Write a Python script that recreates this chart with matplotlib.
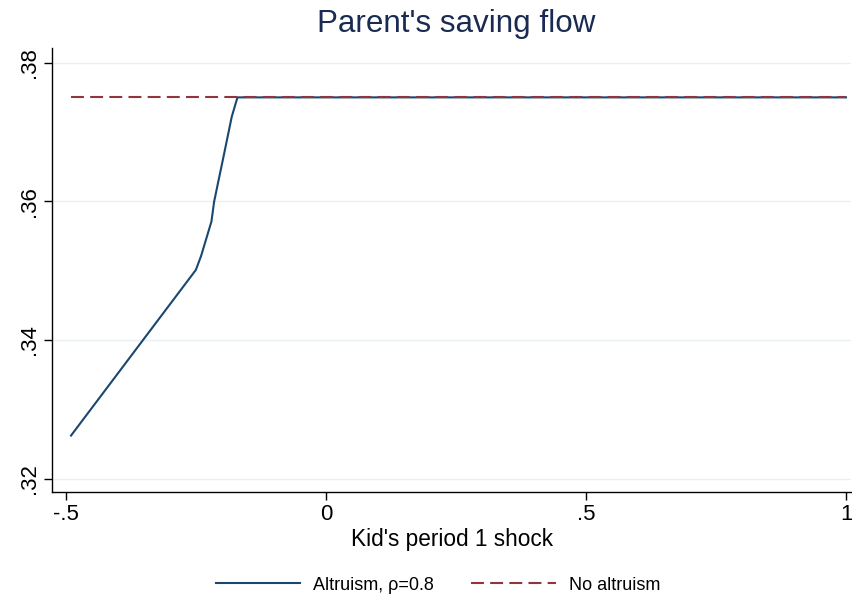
import matplotlib
matplotlib.use("Agg")
import matplotlib.pyplot as plt
from matplotlib.lines import Line2D

plt.rcParams['font.family'] = ['Liberation Sans', 'DejaVu Sans']

# Kid's period 1 shock and parent's saving flow
shock = [-0.49, -0.25, -0.24, -0.22, -0.215, -0.207, -0.1975, -0.181, -0.17, 1.0]
saving_altruism = [0.3262, 0.3501, 0.3521, 0.3571, 0.3599, 0.3628, 0.3662, 0.3722, 0.3750, 0.3750]
noalt_x = [-0.49, 1.0]
saving_noalt = [0.375, 0.375]

xticks = [-0.5, 0, 0.5, 1]
xticklabels = ["-.5", "0", ".5", "1"]
yticks = [0.32, 0.34, 0.36, 0.38]
yticklabels = [".32", ".34", ".36", ".38"]

blue = "#1a476f"
red = "#90353b"
title_col = "#1a2b52"

fig = plt.figure(figsize=(8.52, 5.98), dpi=100)
ax = fig.add_axes([52.3 / 852, 1 - 491.7 / 598, (851 - 52.3) / 852, (491.7 - 48.3) / 598])

ax.plot(shock, saving_altruism, color=blue, lw=1.5, solid_joinstyle='round', zorder=3)
ax.plot(noalt_x, saving_noalt, color=red, lw=1.5, dashes=(6.2, 3.0), zorder=4)

ax.set_xlim(-0.526, 1.0096)
ax.set_ylim(0.3181, 0.38208)
ax.set_xticks(xticks)
ax.set_xticklabels(xticklabels)
ax.set_yticks(yticks)
ax.set_yticklabels(yticklabels, rotation=90, va='center')
ax.tick_params(axis='both', direction='out', length=6, width=1.0, colors='black',
               labelsize=16, pad=3)
ax.grid(axis='y', color='#e9f0f2', lw=1.0, zorder=0)
ax.set_axisbelow(True)
for s in ['top', 'right']:
    ax.spines[s].set_visible(False)
for s in ['left', 'bottom']:
    ax.spines[s].set_linewidth(1.0)

ax.set_xlabel("Kid's period 1 shock", fontsize=16.3, labelpad=2)
fig.text(456 / 852, 1 - 24 / 598, "Parent's saving flow", fontsize=22.6, color=title_col,
         ha='center', va='center')

handles = [Line2D([], [], color=blue, lw=1.5),
           Line2D([], [], color=red, lw=1.5, dashes=(6.2, 3.0))]
fig.legend(handles, ["Altruism, \u03c1=0.8", "No altruism"], loc='center',
           bbox_to_anchor=(438 / 852, 1 - 585 / 598), ncol=2, frameon=False,
           fontsize=13, handlelength=4.7, handletextpad=0.72, columnspacing=2.05)

fig.savefig("out.png", dpi=100)
